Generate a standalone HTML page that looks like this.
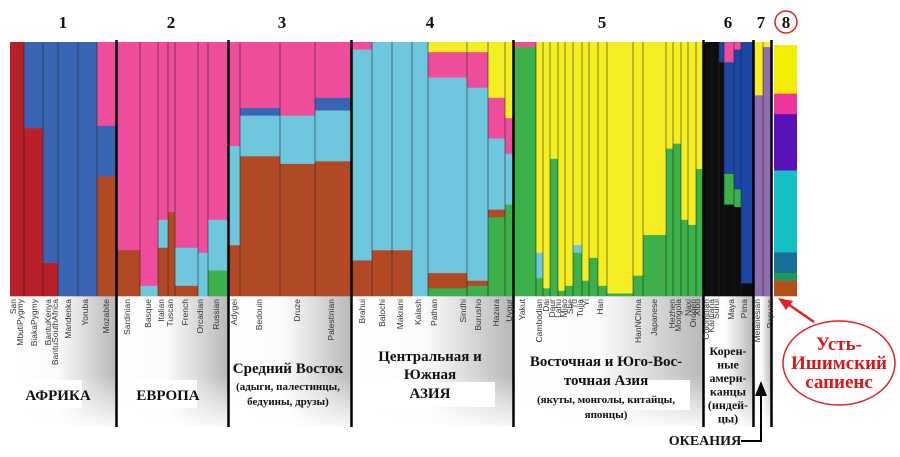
<!DOCTYPE html>
<html><head><meta charset="utf-8"><style>
html,body{margin:0;padding:0;background:#fff;width:900px;height:457px;overflow:hidden}
svg{display:block}
.pl{font-family:"Liberation Sans",sans-serif;font-size:8.5px;fill:#333}
.t{font-family:"Liberation Serif","Noto Serif CJK SC",serif;font-weight:bold;fill:#111;text-anchor:middle}
</style></head><body>
<svg id="chart" width="900" height="457" viewBox="0 0 900 457">
<defs>
<linearGradient id="gh" x1="0" x2="1" y1="0" y2="0"><stop offset="0" stop-color="#fff"/><stop offset="0.45" stop-color="#fbfbfb"/><stop offset="1" stop-color="#b8b8b8"/></linearGradient>
<linearGradient id="gv" x1="0" x2="0" y1="0" y2="1"><stop offset="0.6" stop-color="#fff" stop-opacity="0"/><stop offset="1" stop-color="#fff" stop-opacity="0.9"/></linearGradient>
</defs>
<g id="bg"></g><g id="bars"></g><g id="seps"></g><g id="labels"></g><g id="titles"></g>
</svg>
<script>
const popSizes=[14,19,15,20,19,19, 23,18,10,7,23,10,20, 11,40,35,36, 20,20,20,16,39,21,17,8, 22,7,7,8,7,8,9,7,9,9,26,10,23,7,8,7,8,7, 8,7,5,10,7,12, 9,8];
const popGroup=[0,0,0,0,0,0, 1,1,1,1,1,1,1, 2,2,2,2, 3,3,3,3,3,3,3,3, 4,4,4,4,4,4,4,4,4,4,4,4,4,4,4,4,4,4, 5,5,5,5,5,5, 6,6];
const compKeys=["Y","P","B","BA","C","Br","R","G","K","U"];
const compColors=["#f5ee22","#ee4d9c","#3b63b3","#1c45a6","#6ec7dc","#b14a24","#b8202a","#3cb049","#0d0d0d","#8f6db0"];
const Y =[0,0,0,0,0,0, 0,0,0,0,0,0,0, 0,0,0,0, 0,0,0,0,4,4,22,30, 0,83,97,46,98,96,80,94,85,96,99,92,76,42,40,70,72,50, 0,0,0,0,0,0, 21,2];
const P =[0,0,0,0,0,33, 82,96,70,67,81,83,70, 41,26,29,22, 3,0,0,0,10,14,16,14, 2,0,0,0,0,0,0,0,0,0,0,0,0,0,0,0,0,0, 0,0,0,8,3,0, 0,0];
const B =[0,34,87,100,100,20, 0,0,0,0,0,0,0, 0,3,0,5, 0,0,0,0,0,0,0,0, 0,0,0,0,0,0,0,0,0,0,0,0,0,0,0,0,0,0, 0,0,0,0,0,0, 0,0];
const BA=[0,0,0,0,0,0, 0,0,0,0,0,0,0, 0,0,0,0, 0,0,0,0,0,0,0,0, 0,0,0,0,0,0,0,0,0,0,0,0,0,0,0,0,0,0, 0,0,8,44,55,95, 0,0];
const C =[0,0,0,0,0,0, 0,4,11,0,15,17,20, 39,16,19,20, 83,82,82,100,77,76,28,20, 0,10,0,0,0,0,3,0,0,0,0,0,0,0,0,0,0,0, 0,0,0,0,0,0, 0,0];
const Br=[0,0,0,0,0,47, 18,0,19,33,4,0,0, 20,55,52,53, 14,18,18,0,6,2,3,0, 0,0,0,0,0,0,0,0,0,0,0,0,0,0,0,0,0,0, 0,0,0,0,0,0, 0,0];
const R =[100,66,13,0,0,0, 0,0,0,0,0,0,0, 0,0,0,0, 0,0,0,0,0,0,0,0, 0,0,0,0,0,0,0,0,0,0,0,0,0,0,0,0,0,0, 0,0,0,0,0,0, 0,0];
const G =[0,0,0,0,0,0, 0,0,0,0,0,0,10, 0,0,0,0, 0,0,0,0,3,4,31,36, 98,7,3,54,2,4,17,6,15,4,1,8,24,58,60,30,28,50, 0,0,0,12,7,0, 0,0];
const K =[0,0,0,0,0,0, 0,0,0,0,0,0,0, 0,0,0,0, 0,0,0,0,0,0,0,0, 0,0,0,0,0,0,0,0,0,0,0,0,0,0,0,0,0,0, 100,100,92,36,35,5, 0,0];
const U =[0,0,0,0,0,0, 0,0,0,0,0,0,0, 0,0,0,0, 0,0,0,0,0,0,0,0, 0,0,0,0,0,0,0,0,0,0,0,0,0,0,0,0,0,0, 0,0,0,0,0,0, 79,98];
const comps=[Y,P,B,BA,C,Br,R,G,K,U];
const sampleLabels=["San","MbutiPygmy","BiakaPygmy","BantuKenya","BantuSouthAfrica","Mandenka","Yoruba","Mozabite","Sardinian","Basque","Italian","Tuscan","French","Orcadian","Russian","Adygei","Bedouin","Druze","Palestinian","Brahui","Balochi","Makrani","Kalash","Pathan","Sindhi","Burusho","Hazara","Uygur","Yakut","Cambodian","Dai","Daur","Lahu","Miao","She","Tu","Tujia","Yi","Han","HanNChina","Japanese","Hezhen","Mongola","Naxi","Oroqen","Xibo","Colombian","Karitiana","Surui","Maya","Pima","Melanesian","Papuan"];
const labelPos=[13,20,34,48,55,68,85,106,127,148,161,170,185,200,216,234,259,297,331,362,382,400,418,434,463,478,496,509,522,539,546,552,558,564,570,574,580,586,600,638,654,672,678,688,693,697,706,711,716,731,744,757,770];
const sampleUIM=[19,8,22,32,8,3,6];
const uimColors=["#f5ee00","#f0359a","#5a12b8","#16bfc2","#156f98","#1f9a5a","#b4511a"];

const NS="http://www.w3.org/2000/svg";
function mk(tag,attrs,parent){const e=document.createElementNS(NS,tag);for(const k in attrs)e.setAttribute(k,attrs[k]);parent.appendChild(e);return e;}
const top0=42,bot0=296,H=bot0-top0,x0=10;
const yS=v=>top0+v/100*H;
let x=x0;const xs=[];const groupEnds=[];
for(let i=0;i<popSizes.length;i++){
  if(i>0&&popGroup[i]!==popGroup[i-1]){groupEnds.push(x);x+=1;}
  xs.push(x);x+=popSizes[i];
}
groupEnds.push(x);
const bars=document.getElementById('bars');
const seps=document.getElementById('seps');
for(let i=0;i<popSizes.length;i++){
  let acc=0;
  for(let c=0;c<comps.length;c++){
    const v=comps[c][i];if(!v)continue;
    const r=mk('rect',{x:xs[i],y:yS(acc),width:popSizes[i],height:yS(acc+v)-yS(acc)+0.3,fill:compColors[c]},bars);
    
    
    acc+=v;
  }
  if(i>0&&popGroup[i]===popGroup[i-1]){
    const l=mk('line',{x1:xs[i],x2:xs[i],y1:top0,y2:bot0,stroke:'#222','stroke-width':0.8,'stroke-opacity':0.7},seps);
    
    
  }
}
// group backgrounds and thick separators
const bg=document.getElementById('bg');
let gs=x0;
for(let g=0;g<groupEnds.length;g++){
  const r=mk('rect',{x:gs,y:bot0,width:groupEnds[g]-gs,height:130,fill:'url(#gh)'},bg);
  
  
  mk('rect',{x:gs,y:bot0,width:groupEnds[g]-gs,height:130,fill:'url(#gv)'},bg);
  gs=groupEnds[g]+1;
}
for(let g=0;g<groupEnds.length;g++){
  const l=mk('line',{x1:groupEnds[g]+0.5,x2:groupEnds[g]+0.5,y1:40,y2:427,stroke:'#000','stroke-width':2.5},seps);
  
  
}
// sample 8 column
let uacc=0;const ut=45,uh=251;const usum=sampleUIM.reduce((a,b)=>a+b,0);
for(let c=0;c<sampleUIM.length;c++){
  const y1=ut+uacc/usum*uh;uacc+=sampleUIM[c];const y2=ut+uacc/usum*uh;
  const r=mk('rect',{x:774,y:y1,width:23,height:y2-y1+0.3,fill:uimColors[c]},bars);
  
  
}
// labels
const lab=document.getElementById('labels');
for(let i=0;i<sampleLabels.length;i++){
  const t=mk('text',{class:'pl','text-anchor':'end',transform:`translate(${labelPos[i]+3},299) rotate(-90)`},lab);
  t.textContent=sampleLabels[i];
  
  
}
</script>
<g></g>
<script>
const T=document.getElementById('titles');
function tx(str,x,y,size,extra){const e=document.createElementNS("http://www.w3.org/2000/svg",'text');e.setAttribute('x',x);e.setAttribute('y',y);e.setAttribute('class','t');e.setAttribute('font-size',size);if(extra)for(const k in extra)e.setAttribute(k,extra[k]);e.textContent=str;T.appendChild(e);return e;}
const nums=[["1",63],["2",171],["3",282],["4",430],["5",602],["6",728],["7",761],["8",786]];
for(const [n,xx] of nums){const e=tx(n,xx,28,17);

}
const ns="http://www.w3.org/2000/svg";
const circ=document.createElementNS(ns,'circle');circ.setAttribute('cx',786);circ.setAttribute('cy',22);circ.setAttribute('r',11);circ.setAttribute('fill','none');circ.setAttribute('stroke','#d22');circ.setAttribute('stroke-width',1.5);T.appendChild(circ);


// white boxes behind titles
function box(x,y,w,h){const r=document.createElementNS(ns,'rect');r.setAttribute('x',x);r.setAttribute('y',y);r.setAttribute('width',w);r.setAttribute('height',h);r.setAttribute('fill','#fff');T.appendChild(r);}
box(20,380,62,28);box(135,380,62,28);box(355,382,140,25);box(620,380,70,30);
tx("АФРИКА",58,400,15);
tx("ЕВРОПА",168,400,15);
tx("Средний Восток",288,373,15);
tx("(адыги, палестинцы,",288,390,11);
tx("бедуины, друзы)",288,405,11);
tx("Центральная и",430,361,15);
tx("Южная",430,379,15);
tx("АЗИЯ",430,398,15);
tx("Восточная и Юго-Вос-",606,366,15);
tx("точная Азия",606,385,15);
tx("(якуты, монголы, китайцы,",606,403,11);
tx("японцы)",606,418,11);
const am=["Корен-","ные","амери-","канцы","(индей-","цы)"];
am.forEach((s,i)=>tx(s,728,355+i*13.5,12));
tx("ОКЕАНИЯ",705,445,14);
const arr=document.createElementNS(ns,'path');arr.setAttribute('d','M741,441 H761 V392');arr.setAttribute('fill','none');arr.setAttribute('stroke','#000');arr.setAttribute('stroke-width',2);T.appendChild(arr);


const ah=document.createElementNS(ns,'path');ah.setAttribute('d','M755,396 L761,381 L767,396 Z');ah.setAttribute('fill','#000');T.appendChild(ah);
const el=document.createElementNS(ns,'ellipse');el.setAttribute('cx',839);el.setAttribute('cy',363);el.setAttribute('rx',56);el.setAttribute('ry',42);el.setAttribute('fill','#fff');el.setAttribute('stroke','#d22');el.setAttribute('stroke-width',1.5);T.appendChild(el);


[["Усть-",350],["Ишимский",369],["сапиенс",388]].forEach(([s,y])=>{const e=tx(s,839,y,19);e.style.fill='#d41a1a';});
const ra=document.createElementNS(ns,'path');ra.setAttribute('d','M814,322 L785,302');ra.setAttribute('stroke','#d22');ra.setAttribute('stroke-width',2.5);T.appendChild(ra);
const rh=document.createElementNS(ns,'path');rh.setAttribute('d','M778,298 L793,301 L786,310 Z');rh.setAttribute('fill','#d22');T.appendChild(rh);
</script>
</body></html>
